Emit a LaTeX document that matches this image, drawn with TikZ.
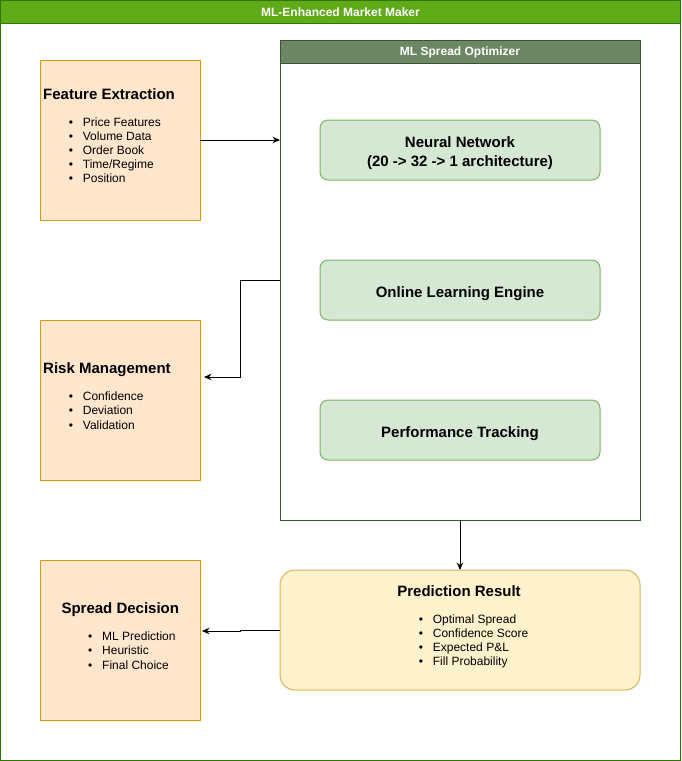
\documentclass[tikz,border=0pt]{standalone}
\usepackage{fontspec}
\setmainfont{Liberation Sans}
\usetikzlibrary{arrows.meta,calc}
\definecolor{titlegreen}{HTML}{60A917}
\definecolor{titleline}{HTML}{2D7600}
\definecolor{optfill}{HTML}{6D8764}
\definecolor{optline}{HTML}{3A5431}
\definecolor{orfill}{HTML}{FFE6CC}
\definecolor{orline}{HTML}{D79B00}
\definecolor{gfill}{HTML}{D5E8D4}
\definecolor{gline}{HTML}{82B366}
\definecolor{yfill}{HTML}{FFF2CC}
\definecolor{yline}{HTML}{D6B656}
\begin{document}
\begin{tikzpicture}[x=1pt,y=-1pt,
  box/.style={draw, line width=1pt, inner sep=0pt, outer sep=0pt, anchor=north west},
  orbox/.style={box, draw=orline, fill=orfill, minimum width=160pt, minimum height=160pt},
  gbox/.style={box, draw=gline, fill=gfill, rounded corners=8pt, minimum width=280pt, minimum height=60pt},
  ttl/.style={font=\bfseries\fontsize{15}{18}\selectfont, inner sep=0pt, anchor=base west},
  gtext/.style={font=\bfseries\fontsize{15}{18}\selectfont, inner sep=0pt, anchor=base},
  item/.style={font=\fontsize{12}{14.4}\selectfont, inner sep=0pt, anchor=base west},
  hdr/.style={font=\bfseries\fontsize{12}{14.4}\selectfont, text=white, inner sep=0pt, text height=8.6pt, text depth=0pt},
  arr/.style={-{Stealth[length=7.5pt,width=6.5pt]}, line width=1pt, black}
]
\useasboundingbox (0,0) rectangle (681,761);
% main container
\node[box, draw=titleline, fill=white, minimum width=680pt, minimum height=760pt] (main) at (0.5,0.5) {};
\node[box, draw=titleline, fill=titlegreen, minimum width=680pt, minimum height=23pt] (mainhdr) at (0.5,0.5) {};
\node[hdr] (maintitle) at (mainhdr.center) {ML-Enhanced Market Maker};
% optimizer
\node[box, draw=optline, fill=white, minimum width=360pt, minimum height=480pt] (opt) at (280,40) {};
\node[box, draw=optline, fill=optfill, minimum width=360pt, minimum height=23pt] (opthdr) at (280,40) {};
\node[hdr] (opttitle) at (opthdr.center) {ML Spread Optimizer};
% green boxes
\node[gbox] (nn) at (320,120) {};
\node[gtext] (nn1) at (460,147.5) {Neural Network};
\node[gtext] (nn2) at (460,166) {(20 -> 32 -> 1 architecture)};
\node[gbox] (ol) at (320,260) {};
\node[gtext] (oltext) at (460,297) {Online Learning Engine};
\node[gbox] (pt) at (320,400) {};
\node[gtext] (pttext) at (460,437) {Performance Tracking};
% feature extraction
\node[orbox] (fe) at (40,60) {};
\node[ttl] (fetitle) at (43,99.4) {Feature Extraction};
\foreach \t [count=\i] in {Price Features,Volume Data,Order Book,Time/Regime,Position}
  \node[item] (fe-\i) at (82.7,{126+14.2*(\i-1)}) {\llap{\textbullet\hspace{9.9pt}}\t};
% risk management
\node[orbox] (rm) at (40,320) {};
\node[ttl] (rmtitle) at (43,373.5) {Risk Management};
\foreach \t [count=\i] in {Confidence,Deviation,Validation}
  \node[item] (rm-\i) at (82.7,{400.4+14.4*(\i-1)}) {\llap{\textbullet\hspace{9.9pt}}\t};
% spread decision
\node[orbox] (sd) at (40,560) {};
\node[ttl, anchor=base] (sdtitle) at (120.3,613.5) {Spread Decision};
\foreach \t [count=\i] in {ML Prediction,Heuristic,Final Choice}
  \node[item] (sd-\i) at (102,{640.4+14.4*(\i-1)}) {\llap{\textbullet\hspace{9.9pt}}\t};
% prediction result
\node[box, draw=yline, fill=yfill, rounded corners=15pt, minimum width=360pt, minimum height=120pt] (pr) at (280,570) {};
\node[gtext] (prtitle) at (459,596.4) {Prediction Result};
\foreach \t [count=\i] in {Optimal Spread,Confidence Score,Expected P\&L,Fill Probability}
  \node[item] (pr-\i) at (432.7,{623.3+14.2*(\i-1)}) {\llap{\textbullet\hspace{9.9pt}}\t};
% connectors
\coordinate (rmin) at (204,377);
\coordinate (sdin) at (202,631);
\draw[arr] (fe.east) -- (fe.east -| opt.west);
\draw[arr] (opt.west) -- ++(-40,0) |- (rmin);
\draw[arr] (opt.south) -- (pr.north);
\draw[arr] (pr.west) -- ++(-40,0) -- ++(0,1) -- (sdin);
\end{tikzpicture}
\end{document}
